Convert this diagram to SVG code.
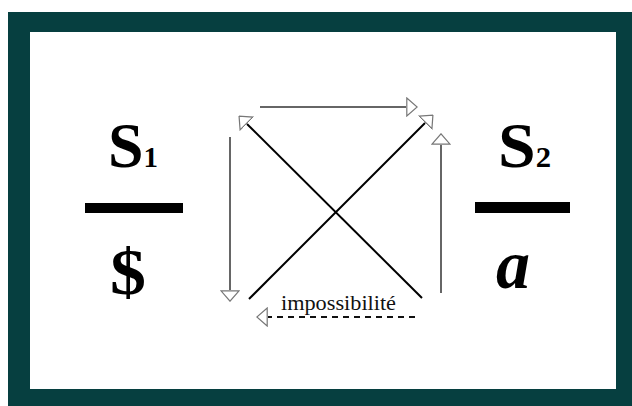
<svg xmlns="http://www.w3.org/2000/svg" width="632" height="406" viewBox="0 0 632 406">
  <style>
    .sym { font-family: "Liberation Serif", "Times New Roman", serif; font-weight: bold; fill: #000; }
    .lbl { font-family: "Liberation Serif", "Times New Roman", serif; fill: #111; }
    .bar { fill: #000; }
    .thin { stroke: #333; stroke-width: 1.5; fill: none; }
    .diag { stroke: #000; stroke-width: 2; fill: none; }
    .dash { stroke: #111; stroke-width: 2; fill: none; stroke-dasharray: 6 5; }
  </style>
  <defs>
    <marker id="head" viewBox="0 0 12 20" refX="0" refY="10" markerWidth="12" markerHeight="20" markerUnits="userSpaceOnUse" orient="auto">
      <path d="M0.8,1 L11.2,10 L0.8,19 Z" fill="#fff" stroke="#777" stroke-width="1.2" stroke-dasharray="none"/>
    </marker>
  </defs>

  <g id="frame">
    <rect x="0" y="0" width="632" height="406" fill="#fff"/>
    <rect x="8" y="12" width="624" height="394" fill="#063f40"/>
    <rect x="30" y="32" width="586" height="357" fill="#fff"/>
  </g>

  <g id="node-left">
    <text class="sym" x="108" y="167" font-size="64" textLength="50" lengthAdjust="spacingAndGlyphs">S<tspan font-size="29">1</tspan></text>
    <rect class="bar" x="85" y="203" width="98" height="10"/>
    <text class="sym" x="110" y="294" font-size="66" textLength="36" lengthAdjust="spacingAndGlyphs">$</text>
  </g>

  <g id="node-right">
    <text class="sym" x="498" y="167" font-size="64" textLength="53" lengthAdjust="spacingAndGlyphs">S<tspan font-size="29">2</tspan></text>
    <rect class="bar" x="475" y="202" width="95" height="11"/>
    <text class="sym" x="496" y="288" font-size="70" font-style="italic" textLength="34" lengthAdjust="spacingAndGlyphs">a</text>
  </g>

  <g id="connectors">
    <line class="thin" x1="260" y1="107" x2="406" y2="107" marker-end="url(#head)"/>
    <line class="thin" x1="230" y1="137" x2="230" y2="290" marker-end="url(#head)"/>
    <line class="thin" x1="441" y1="293" x2="441" y2="145" marker-end="url(#head)"/>
    <line class="diag" x1="422" y1="298" x2="247" y2="124" marker-end="url(#head)"/>
    <line class="diag" x1="249" y1="299" x2="425" y2="123" marker-end="url(#head)"/>
    <line class="dash" x1="415" y1="317" x2="268" y2="317" marker-end="url(#head)"/>
    <text class="lbl" x="281" y="310" font-size="22" textLength="115" lengthAdjust="spacingAndGlyphs">impossibilité</text>
  </g>
</svg>
